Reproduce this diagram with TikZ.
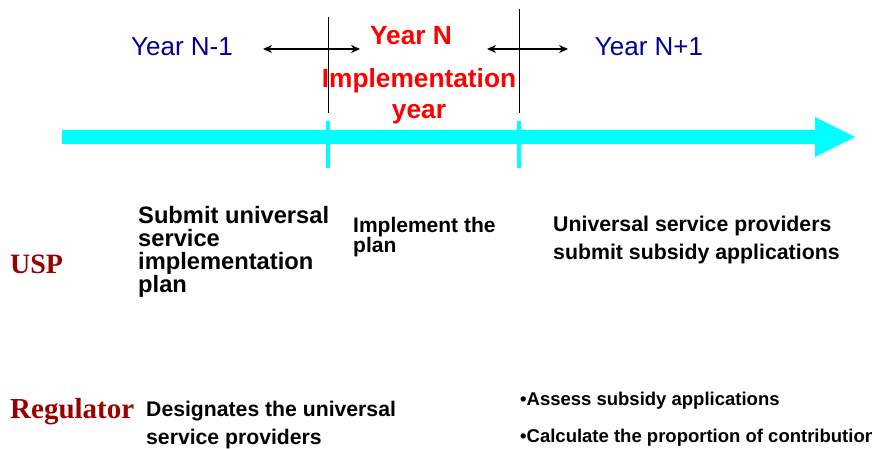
\documentclass[tikz,border=0pt]{standalone}
\usepackage{fontspec}
\setmainfont{Liberation Sans}
\newfontfamily\serifb{Liberation Serif}
\usetikzlibrary{arrows.meta}
\definecolor{navy}{RGB}{0,0,153}
\definecolor{brightred}{RGB}{255,0,0}
\definecolor{darkred}{RGB}{153,0,0}
\definecolor{tlcyan}{RGB}{0,255,255}
\tikzset{
  yearlbl/.style={inner sep=0pt, anchor=base, text=navy, font=\fontsize{26}{26}\selectfont},
  redlbl/.style={inner sep=0pt, text=brightred, font=\fontsize{26.3}{31}\selectfont\bfseries},
  rolelbl/.style={inner sep=0pt, anchor=base west, text=darkred, font=\serifb\bfseries\fontsize{28}{28}\selectfont},
  tasklbl/.style={inner sep=0pt, anchor=north west, align=left, text=black},
  span/.style={draw=black, line width=1.5pt, {Stealth[length=9pt,width=8pt]}-{Stealth[length=9pt,width=8pt]}},
  divider/.style={draw=black, line width=0.8pt},
  tick/.style={draw=tlcyan, line width=3.5pt},
}
\begin{document}
\begin{tikzpicture}[x=1pt,y=-1pt]
\useasboundingbox (0,0) rectangle (872,449);
% timeline arrow
\fill[tlcyan] (62,130) -- (815,130) -- (815,117) -- (855,137) -- (815,157) -- (815,144) -- (62,144) -- cycle;
% ticks
\coordinate (t1a) at (328,121); \coordinate (t1b) at (328,168);
\coordinate (t2a) at (519,121); \coordinate (t2b) at (519,168);
\draw[tick] (t1a) -- (t1b);
\draw[tick] (t2a) -- (t2b);
% dividers
\coordinate (d1a) at (328,17); \coordinate (d1b) at (328,113);
\coordinate (d2a) at (519,9); \coordinate (d2b) at (519,113);
\draw[divider] (d1a) -- (d1b);
\draw[divider] (d2a) -- (d2b);
% span arrows
\coordinate (s1a) at (263,49); \coordinate (s1b) at (360,49);
\coordinate (s2a) at (487,49); \coordinate (s2b) at (568,49);
\draw[span] (s1a) -- (s1b);
\draw[span] (s2a) -- (s2b);
% year labels
\node[yearlbl] (yprev) at (182,56) {Year N-1};
\node[yearlbl] (ynext) at (649,56) {Year N+1};
\node[redlbl, anchor=base] (ycur) at (411,45) {Year N};
\node[redlbl, anchor=north, align=center] (impl) at (419,68) {Implementation\\year};
% roles
\node[rolelbl] (usp) at (10,273) {USP};
\node[rolelbl, font=\serifb\bfseries\fontsize{29}{29}\selectfont] (reg) at (10,418) {Regulator};
% tasks
\node[tasklbl, font=\bfseries\fontsize{23.7}{23}\selectfont] (submit) at (138,206) {Submit universal\\service\\implementation\\plan};
\node[tasklbl, font=\bfseries\fontsize{21}{20}\selectfont] (implement) at (353,217) {Implement the\\plan};
\node[tasklbl, font=\bfseries\fontsize{21.3}{28}\selectfont] (apply) at (553,216) {Universal service providers\\submit subsidy applications};
\node[tasklbl, font=\bfseries\fontsize{21.2}{28}\selectfont] (designate) at (146,401) {Designates the universal\\service providers};
\node[tasklbl, font=\bfseries\fontsize{18.5}{37}\selectfont] (assess) at (520,392) {•Assess subsidy applications\\•Calculate the proportion of contribution};
\end{tikzpicture}
\end{document}
